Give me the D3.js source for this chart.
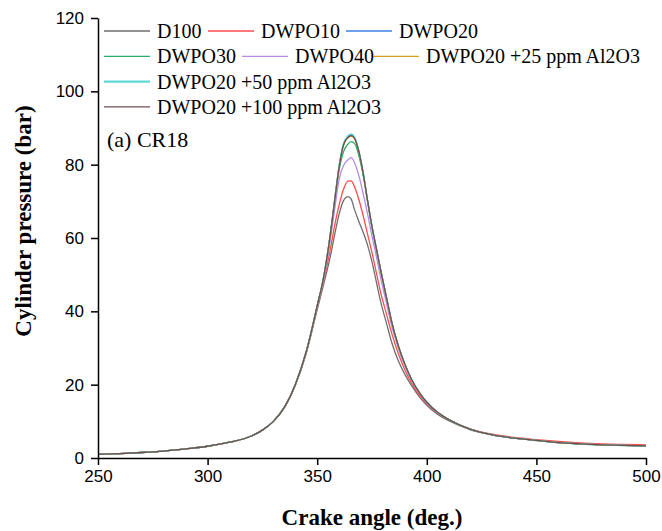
<!DOCTYPE html>
<html>
<head>
<meta charset="utf-8">
<script src="https://cdn.jsdelivr.net/npm/d3@7"></script>
<style>
  body { margin: 0; background: #fff; }
  svg { display: block; }
</style>
</head>
<body>
<div id="chartContainer"></div>
<script>
// crank angle (deg.) - shared x values
const angles = [250, 260, 270, 280, 290, 300, 310, 320, 325, 330, 335, 340, 345, 350, 353, 356, 358, 360, 362, 364, 365.5, 367, 369, 371, 373, 375, 377, 379, 381.5, 384, 387, 390, 393, 397, 400, 405, 410, 420, 430, 440, 450, 460, 470, 480, 490, 500];

// cylinder pressure (bar)
const d100    = [1.0, 1.2, 1.5, 1.9, 2.5, 3.2, 4.3, 6.0, 7.6, 10.0, 13.7, 19.8, 28.5, 40.5, 47.5, 55, 61, 66.5, 70.2, 71.3, 70.6, 67.8, 64.5, 61.5, 58, 53.5, 48, 42.5, 37, 31.5, 26.5, 22.8, 19.8, 16.4, 14.4, 11.9, 10.2, 7.7, 6.3, 5.4, 4.8, 4.3, 3.9, 3.65, 3.5, 3.4];
const dwpo10  = [1.0, 1.2, 1.5, 1.9, 2.5, 3.2, 4.3, 6.0, 7.6, 10.0, 13.8, 20.0, 28.8, 41.0, 48.5, 57, 63.5, 69, 73.3, 75.5, 75.6, 74, 70.5, 66, 61, 56, 50.5, 45, 39.5, 34, 28.5, 24, 20.5, 16.8, 14.8, 12.2, 10.5, 7.9, 6.5, 5.6, 5.0, 4.5, 4.1, 3.85, 3.7, 3.6];
const dwpo20  = [1.0, 1.2, 1.5, 1.9, 2.5, 3.2, 4.3, 6.0, 7.6, 10.0, 13.8, 20.0, 29.0, 41.5, 49.5, 61, 70.5, 79.5, 85.5, 87.6, 88.1, 87.3, 83.5, 77.5, 70, 63, 57, 51, 44, 37, 30.5, 25.5, 21.5, 17.5, 15.2, 12.4, 10.5, 7.8, 6.3, 5.4, 4.8, 4.2, 3.85, 3.6, 3.45, 3.3];
const dwpo30  = [1.0, 1.2, 1.5, 1.9, 2.5, 3.2, 4.3, 6.0, 7.6, 10.0, 13.8, 20.0, 29.0, 41.5, 49.5, 61, 70, 78.5, 83.5, 85.6, 86.3, 85.8, 82.5, 77, 70, 63, 57, 51, 44, 37, 30.5, 25.5, 21.5, 17.5, 15.2, 12.4, 10.5, 7.8, 6.3, 5.4, 4.75, 4.2, 3.8, 3.55, 3.4, 3.25];
const dwpo40  = [1.0, 1.2, 1.5, 1.9, 2.5, 3.2, 4.3, 6.0, 7.6, 10.0, 13.8, 20.0, 29.0, 41.3, 49, 59.5, 68, 76, 79.8, 81.3, 81.9, 80.6, 77, 72, 66.5, 60.5, 55, 49, 42.5, 36, 30, 25, 21.2, 17.3, 15.0, 12.3, 10.5, 7.8, 6.3, 5.4, 4.8, 4.2, 3.85, 3.6, 3.45, 3.3];
const al25    = [1.0, 1.2, 1.5, 1.9, 2.5, 3.2, 4.3, 6.0, 7.6, 10.0, 13.8, 20.0, 29.0, 41.5, 49.5, 61, 70.5, 79.5, 85.3, 87.3, 87.8, 87.1, 83.5, 77.5, 70, 63, 57, 51, 44, 37, 30.5, 25.5, 21.5, 17.5, 15.2, 12.4, 10.5, 7.8, 6.3, 5.4, 4.8, 4.2, 3.85, 3.6, 3.45, 3.3];
const al50    = [1.0, 1.2, 1.5, 1.9, 2.5, 3.2, 4.3, 6.0, 7.6, 10.0, 13.8, 20.0, 29.0, 41.5, 49.5, 61, 70.5, 79.8, 85.8, 87.9, 88.4, 87.6, 83.8, 77.8, 70.2, 63.2, 57.2, 51.2, 44.2, 37.2, 30.6, 25.6, 21.5, 17.5, 15.2, 12.4, 10.5, 7.8, 6.3, 5.4, 4.8, 4.2, 3.85, 3.6, 3.45, 3.3];
const al100   = [1.0, 1.2, 1.5, 1.9, 2.5, 3.2, 4.3, 6.0, 7.6, 10.0, 13.8, 20.0, 29.0, 41.5, 49.5, 61, 70.3, 79.3, 85.4, 87.4, 87.9, 87.2, 83.6, 77.6, 70.1, 63.1, 57.1, 51.1, 44.1, 37.1, 30.6, 25.6, 21.5, 17.5, 15.2, 12.4, 10.5, 7.8, 6.3, 5.4, 4.8, 4.2, 3.85, 3.6, 3.45, 3.3];

const seriesNames  = ["D100", "DWPO10", "DWPO20", "DWPO30", "DWPO40", "DWPO20 +25 ppm Al2O3", "DWPO20 +50 ppm Al2O3", "DWPO20 +100 ppm Al2O3"];
const seriesColors = ["#6e6e6e", "#ff4d4d", "#3b82e6", "#2eaa6a", "#b88ae8", "#d6a01e", "#5fd8d8", "#6e5050"];
const seriesValues = [d100, dwpo10, dwpo20, dwpo30, dwpo40, al25, al50, al100];

const xTicks = [250, 300, 350, 400, 450, 500];
const yTicks = [0, 20, 40, 60, 80, 100, 120];

const series = seriesNames.map((name, i) => ({
  name: name,
  color: seriesColors[i],
  points: angles.map((a, j) => ({ x: a, y: seriesValues[i][j] }))
}));

const totalWidth = 662;
const totalHeight = 531;
const margin = { top: 18, right: 16, bottom: 73, left: 98 };
const width = totalWidth - margin.left - margin.right;
const height = totalHeight - margin.top - margin.bottom;

const svg = d3.select("#chartContainer")
  .append("svg")
  .attr("width", totalWidth)
  .attr("height", totalHeight);

const g = svg.append("g")
  .attr("transform", `translate(${margin.left}, ${margin.top})`);

const xScale = d3.scaleLinear().domain([250, 500]).range([0, width]);
const yScale = d3.scaleLinear().domain([0, 120]).range([height, 0]);

// lines
const line = d3.line()
  .x(d => xScale(d.x))
  .y(d => yScale(d.y))
  .curve(d3.curveMonotoneX);

g.selectAll(".series")
  .data(series)
  .enter()
  .append("path")
  .attr("class", "series")
  .attr("d", d => line(d.points))
  .attr("fill", "none")
  .attr("stroke", d => d.color)
  .attr("stroke-width", 1.3);

// x axis
const xAxis = g.append("g")
  .attr("transform", `translate(0, ${height})`)
  .call(d3.axisBottom(xScale).tickValues(xTicks).tickSize(7).tickSizeOuter(0).tickPadding(5).tickFormat(d3.format("d")));

// y axis
const yAxis = g.append("g")
  .call(d3.axisLeft(yScale).tickValues(yTicks).tickSize(7).tickSizeOuter(0).tickPadding(7));

[xAxis, yAxis].forEach(ax => {
  ax.select(".domain").attr("stroke", "#000").attr("stroke-width", 1.5);
  ax.selectAll(".tick line").attr("stroke", "#000").attr("stroke-width", 1.5);
  ax.selectAll(".tick text")
    .attr("fill", "#000")
    .style("font-family", "'Liberation Sans', Arial, sans-serif")
    .style("font-size", "17px");
});

// axis titles
svg.append("text")
  .attr("x", margin.left + width / 2)
  .attr("y", 525)
  .attr("text-anchor", "middle")
  .style("font-family", "'Liberation Serif', 'Times New Roman', serif")
  .style("font-weight", "bold")
  .style("font-size", "23px")
  .text("Crake angle (deg.)");

svg.append("text")
  .attr("transform", `translate(31, ${margin.top + 203}) rotate(-90)`)
  .attr("text-anchor", "middle")
  .style("font-family", "'Liberation Serif', 'Times New Roman', serif")
  .style("font-weight", "bold")
  .style("font-size", "23px")
  .text("Cylinder pressure (bar)");

// panel label
svg.append("text")
  .attr("x", 107)
  .attr("y", 147)
  .style("font-family", "'Liberation Serif', 'Times New Roman', serif")
  .style("font-size", "22px")
  .text("(a) CR18");

// legend
const legendItems = [
  { s: 0, x: 104, row: 0 }, { s: 1, x: 208, row: 0 }, { s: 2, x: 346, row: 0 },
  { s: 3, x: 104, row: 1 }, { s: 4, x: 242, row: 1 }, { s: 5, x: 373, row: 1 },
  { s: 6, x: 104, row: 2 },
  { s: 7, x: 104, row: 3 }
];

const legend = svg.append("g");
legendItems.forEach(item => {
  const s = series[item.s];
  const y = 31 + item.row * 25.3;
  legend.append("line")
    .attr("x1", item.x).attr("x2", item.x + 46)
    .attr("y1", y).attr("y2", y)
    .attr("stroke", s.color)
    .attr("stroke-width", item.s === 6 ? 2.2 : 1.3);
  legend.append("text")
    .attr("x", item.x + 53)
    .attr("y", y + 7)
    .style("font-family", "'Liberation Serif', 'Times New Roman', serif")
    .style("font-size", "20px")
    .text(s.name);
});
</script>
</body>
</html>
